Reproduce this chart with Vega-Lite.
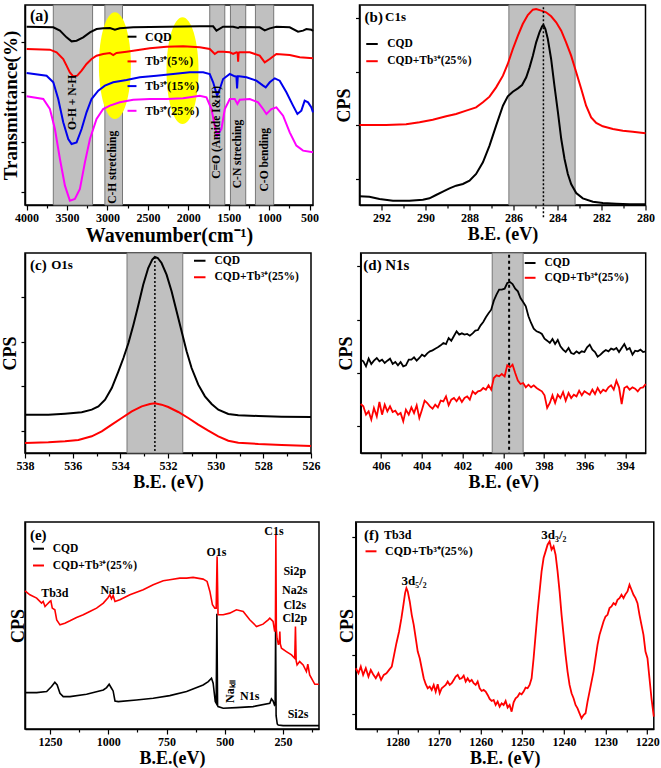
{
"$schema":"https://vega.github.io/schema/vega-lite/v6.json",
"background":"white",
"padding":{"left":0,"top":3,"right":0,"bottom":0},
"spacing":5,
"resolve":{"scale":{"color":"independent"},"legend":{"color":"independent"}},
"config":{
 "view":{"stroke":"black","strokeWidth":1.5},
 "axis":{"grid":false,"domainColor":"black","domainWidth":1.5,"tickColor":"black","tickWidth":1.2,"labelFont":"Liberation Serif","labelFontWeight":"bold","labelFontSize":12,"labelColor":"black","titleFont":"Liberation Serif","titleFontWeight":"bold","titleFontSize":18,"titleColor":"black","labelFlush":false,"labelOverlap":false,"labelPadding":2,"titlePadding":2},
 "legend":{"labelFont":"Liberation Serif","labelFontWeight":"bold","labelColor":"black","padding":0,"symbolStrokeWidth":2},
 "text":{"font":"Liberation Serif","fontWeight":"bold","color":"black"},
 "title":{"font":"Liberation Serif"}
},
"datasets":{
 "a_band":[{"x":3670,"x2":3184},{"x":3032,"x2":2814},{"x":1735,"x2":1549},{"x":1479,"x2":1290},{"x":1170,"x2":944}],
 "a_ell":[{"x":2908,"y":418},{"x":2072,"y":403}],
 "a_text":[{"t":"O-H + N-H","x":3432,"y":308},{"t":"C-H stretching","x":2929,"y":113},{"t":"C=O (Amide I&II)","x":1644,"y":218},{"t":"C-N streching","x":1380,"y":153},{"t":"C-O bending","x":1055,"y":136}],
 "a_line":[
  {"s":"CQD","x":4000,"y":535},{"s":"CQD","x":3670,"y":533},{"s":"CQD","x":3588,"y":523},{"s":"CQD","x":3506,"y":503},{"s":"CQD","x":3444,"y":491},{"s":"CQD","x":3382,"y":493},{"s":"CQD","x":3300,"y":503},{"s":"CQD","x":3217,"y":518},{"s":"CQD","x":3135,"y":528},{"s":"CQD","x":3053,"y":530},{"s":"CQD","x":2970,"y":531},{"s":"CQD","x":2908,"y":526},{"s":"CQD","x":2847,"y":530},{"s":"CQD","x":2682,"y":533},{"s":"CQD","x":2270,"y":535},{"s":"CQD","x":1858,"y":536},{"s":"CQD","x":1693,"y":536},{"s":"CQD","x":1652,"y":523},{"s":"CQD","x":1570,"y":535},{"s":"CQD","x":1446,"y":535},{"s":"CQD","x":1384,"y":531},{"s":"CQD","x":1364,"y":534},{"s":"CQD","x":1117,"y":533},{"s":"CQD","x":1055,"y":524},{"s":"CQD","x":993,"y":530},{"s":"CQD","x":911,"y":535},{"s":"CQD","x":746,"y":533},{"s":"CQD","x":643,"y":520},{"s":"CQD","x":581,"y":523},{"s":"CQD","x":540,"y":528},{"s":"CQD","x":478,"y":526},{"s":"CQD","x":458,"y":522},
  {"s":"Tb³⁺(5%)","x":4000,"y":468},{"s":"Tb³⁺(5%)","x":3712,"y":466},{"s":"Tb³⁺(5%)","x":3629,"y":458},{"s":"Tb³⁺(5%)","x":3547,"y":438},{"s":"Tb³⁺(5%)","x":3506,"y":418},{"s":"Tb³⁺(5%)","x":3465,"y":398},{"s":"Tb³⁺(5%)","x":3423,"y":386},{"s":"Tb³⁺(5%)","x":3374,"y":388},{"s":"Tb³⁺(5%)","x":3320,"y":403},{"s":"Tb³⁺(5%)","x":3259,"y":423},{"s":"Tb³⁺(5%)","x":3197,"y":438},{"s":"Tb³⁺(5%)","x":3135,"y":448},{"s":"Tb³⁺(5%)","x":3053,"y":453},{"s":"Tb³⁺(5%)","x":2970,"y":456},{"s":"Tb³⁺(5%)","x":2929,"y":450},{"s":"Tb³⁺(5%)","x":2888,"y":456},{"s":"Tb³⁺(5%)","x":2764,"y":460},{"s":"Tb³⁺(5%)","x":2682,"y":463},{"s":"Tb³⁺(5%)","x":2476,"y":470},{"s":"Tb³⁺(5%)","x":2270,"y":475},{"s":"Tb³⁺(5%)","x":2064,"y":476},{"s":"Tb³⁺(5%)","x":1858,"y":473},{"s":"Tb³⁺(5%)","x":1735,"y":468},{"s":"Tb³⁺(5%)","x":1673,"y":453},{"s":"Tb³⁺(5%)","x":1632,"y":460},{"s":"Tb³⁺(5%)","x":1570,"y":460},{"s":"Tb³⁺(5%)","x":1487,"y":458},{"s":"Tb³⁺(5%)","x":1446,"y":453},{"s":"Tb³⁺(5%)","x":1405,"y":458},{"s":"Tb³⁺(5%)","x":1390,"y":457},{"s":"Tb³⁺(5%)","x":1384,"y":430},{"s":"Tb³⁺(5%)","x":1378,"y":457},{"s":"Tb³⁺(5%)","x":1364,"y":458},{"s":"Tb³⁺(5%)","x":1240,"y":458},{"s":"Tb³⁺(5%)","x":1117,"y":448},{"s":"Tb³⁺(5%)","x":1055,"y":428},{"s":"Tb³⁺(5%)","x":993,"y":438},{"s":"Tb³⁺(5%)","x":911,"y":453},{"s":"Tb³⁺(5%)","x":746,"y":450},{"s":"Tb³⁺(5%)","x":622,"y":443},{"s":"Tb³⁺(5%)","x":458,"y":440},
  {"s":"Tb³⁺(15%)","x":4000,"y":396},{"s":"Tb³⁺(15%)","x":3753,"y":388},{"s":"Tb³⁺(15%)","x":3670,"y":368},{"s":"Tb³⁺(15%)","x":3609,"y":318},{"s":"Tb³⁺(15%)","x":3547,"y":248},{"s":"Tb³⁺(15%)","x":3485,"y":198},{"s":"Tb³⁺(15%)","x":3444,"y":183},{"s":"Tb³⁺(15%)","x":3382,"y":188},{"s":"Tb³⁺(15%)","x":3320,"y":228},{"s":"Tb³⁺(15%)","x":3259,"y":278},{"s":"Tb³⁺(15%)","x":3197,"y":318},{"s":"Tb³⁺(15%)","x":3114,"y":343},{"s":"Tb³⁺(15%)","x":3032,"y":358},{"s":"Tb³⁺(15%)","x":2929,"y":368},{"s":"Tb³⁺(15%)","x":2764,"y":375},{"s":"Tb³⁺(15%)","x":2600,"y":383},{"s":"Tb³⁺(15%)","x":2394,"y":388},{"s":"Tb³⁺(15%)","x":2188,"y":393},{"s":"Tb³⁺(15%)","x":1982,"y":398},{"s":"Tb³⁺(15%)","x":1817,"y":398},{"s":"Tb³⁺(15%)","x":1735,"y":393},{"s":"Tb³⁺(15%)","x":1693,"y":368},{"s":"Tb³⁺(15%)","x":1644,"y":328},{"s":"Tb³⁺(15%)","x":1611,"y":348},{"s":"Tb³⁺(15%)","x":1570,"y":378},{"s":"Tb³⁺(15%)","x":1487,"y":393},{"s":"Tb³⁺(15%)","x":1426,"y":386},{"s":"Tb³⁺(15%)","x":1405,"y":385},{"s":"Tb³⁺(15%)","x":1397,"y":350},{"s":"Tb³⁺(15%)","x":1388,"y":386},{"s":"Tb³⁺(15%)","x":1372,"y":386},{"s":"Tb³⁺(15%)","x":1281,"y":383},{"s":"Tb³⁺(15%)","x":1158,"y":373},{"s":"Tb³⁺(15%)","x":1075,"y":358},{"s":"Tb³⁺(15%)","x":1043,"y":353},{"s":"Tb³⁺(15%)","x":993,"y":368},{"s":"Tb³⁺(15%)","x":931,"y":380},{"s":"Tb³⁺(15%)","x":870,"y":373},{"s":"Tb³⁺(15%)","x":787,"y":338},{"s":"Tb³⁺(15%)","x":705,"y":298},{"s":"Tb³⁺(15%)","x":651,"y":273},{"s":"Tb³⁺(15%)","x":602,"y":283},{"s":"Tb³⁺(15%)","x":561,"y":313},{"s":"Tb³⁺(15%)","x":519,"y":308},{"s":"Tb³⁺(15%)","x":478,"y":293},{"s":"Tb³⁺(15%)","x":458,"y":278},
  {"s":"Tb³⁺(25%)","x":4000,"y":326},{"s":"Tb³⁺(25%)","x":3794,"y":318},{"s":"Tb³⁺(25%)","x":3712,"y":288},{"s":"Tb³⁺(25%)","x":3650,"y":228},{"s":"Tb³⁺(25%)","x":3588,"y":138},{"s":"Tb³⁺(25%)","x":3526,"y":58},{"s":"Tb³⁺(25%)","x":3465,"y":13},{"s":"Tb³⁺(25%)","x":3403,"y":18},{"s":"Tb³⁺(25%)","x":3341,"y":48},{"s":"Tb³⁺(25%)","x":3279,"y":128},{"s":"Tb³⁺(25%)","x":3217,"y":198},{"s":"Tb³⁺(25%)","x":3135,"y":258},{"s":"Tb³⁺(25%)","x":3053,"y":288},{"s":"Tb³⁺(25%)","x":2970,"y":298},{"s":"Tb³⁺(25%)","x":2847,"y":308},{"s":"Tb³⁺(25%)","x":2682,"y":316},{"s":"Tb³⁺(25%)","x":2476,"y":318},{"s":"Tb³⁺(25%)","x":2270,"y":318},{"s":"Tb³⁺(25%)","x":2064,"y":320},{"s":"Tb³⁺(25%)","x":1858,"y":328},{"s":"Tb³⁺(25%)","x":1776,"y":323},{"s":"Tb³⁺(25%)","x":1714,"y":288},{"s":"Tb³⁺(25%)","x":1673,"y":238},{"s":"Tb³⁺(25%)","x":1644,"y":208},{"s":"Tb³⁺(25%)","x":1590,"y":228},{"s":"Tb³⁺(25%)","x":1549,"y":288},{"s":"Tb³⁺(25%)","x":1487,"y":318},{"s":"Tb³⁺(25%)","x":1426,"y":318},{"s":"Tb³⁺(25%)","x":1393,"y":303},{"s":"Tb³⁺(25%)","x":1364,"y":316},{"s":"Tb³⁺(25%)","x":1240,"y":318},{"s":"Tb³⁺(25%)","x":1137,"y":308},{"s":"Tb³⁺(25%)","x":1075,"y":288},{"s":"Tb³⁺(25%)","x":1034,"y":273},{"s":"Tb³⁺(25%)","x":973,"y":288},{"s":"Tb³⁺(25%)","x":911,"y":293},{"s":"Tb³⁺(25%)","x":828,"y":268},{"s":"Tb³⁺(25%)","x":746,"y":218},{"s":"Tb³⁺(25%)","x":664,"y":178},{"s":"Tb³⁺(25%)","x":581,"y":163},{"s":"Tb³⁺(25%)","x":458,"y":158}
 ],
 "b_band":[{"x":286.21,"x2":283.2}],
 "b_line":[
  {"s":"CQD","x":293.0,"y":26},{"s":"CQD","x":292.55,"y":25},{"s":"CQD","x":292.09,"y":18},{"s":"CQD","x":291.48,"y":13},{"s":"CQD","x":290.73,"y":13},{"s":"CQD","x":290.12,"y":16},{"s":"CQD","x":289.82,"y":20},{"s":"CQD","x":289.52,"y":30},{"s":"CQD","x":289.21,"y":40},{"s":"CQD","x":288.91,"y":50},{"s":"CQD","x":288.61,"y":58},{"s":"CQD","x":288.3,"y":63},{"s":"CQD","x":288.0,"y":73},{"s":"CQD","x":287.7,"y":93},{"s":"CQD","x":287.39,"y":128},{"s":"CQD","x":287.09,"y":178},{"s":"CQD","x":286.79,"y":238},{"s":"CQD","x":286.48,"y":298},{"s":"CQD","x":286.26,"y":326},{"s":"CQD","x":286.03,"y":340},{"s":"CQD","x":285.8,"y":350},{"s":"CQD","x":285.61,"y":360},{"s":"CQD","x":285.42,"y":383},{"s":"CQD","x":285.27,"y":413},{"s":"CQD","x":285.12,"y":448},{"s":"CQD","x":284.97,"y":488},{"s":"CQD","x":284.82,"y":518},{"s":"CQD","x":284.7,"y":536},{"s":"CQD","x":284.64,"y":540},{"s":"CQD","x":284.55,"y":528},{"s":"CQD","x":284.44,"y":498},{"s":"CQD","x":284.29,"y":438},{"s":"CQD","x":284.14,"y":358},{"s":"CQD","x":283.98,"y":278},{"s":"CQD","x":283.83,"y":198},{"s":"CQD","x":283.68,"y":138},{"s":"CQD","x":283.53,"y":93},{"s":"CQD","x":283.38,"y":63},{"s":"CQD","x":283.15,"y":36},{"s":"CQD","x":282.85,"y":20},{"s":"CQD","x":282.39,"y":10},{"s":"CQD","x":281.94,"y":6},{"s":"CQD","x":281.33,"y":4},{"s":"CQD","x":280.73,"y":2},{"s":"CQD","x":280.0,"y":2},
  {"s":"CQD+Tb³⁺(25%)","x":293.0,"y":240},{"s":"CQD+Tb³⁺(25%)","x":292.39,"y":240},{"s":"CQD+Tb³⁺(25%)","x":291.79,"y":240},{"s":"CQD+Tb³⁺(25%)","x":290.88,"y":242},{"s":"CQD+Tb³⁺(25%)","x":290.27,"y":248},{"s":"CQD+Tb³⁺(25%)","x":289.67,"y":256},{"s":"CQD+Tb³⁺(25%)","x":289.06,"y":266},{"s":"CQD+Tb³⁺(25%)","x":288.61,"y":273},{"s":"CQD+Tb³⁺(25%)","x":288.15,"y":283},{"s":"CQD+Tb³⁺(25%)","x":287.7,"y":293},{"s":"CQD+Tb³⁺(25%)","x":287.39,"y":308},{"s":"CQD+Tb³⁺(25%)","x":287.09,"y":325},{"s":"CQD+Tb³⁺(25%)","x":286.79,"y":353},{"s":"CQD+Tb³⁺(25%)","x":286.48,"y":388},{"s":"CQD+Tb³⁺(25%)","x":286.26,"y":423},{"s":"CQD+Tb³⁺(25%)","x":286.03,"y":468},{"s":"CQD+Tb³⁺(25%)","x":285.8,"y":508},{"s":"CQD+Tb³⁺(25%)","x":285.58,"y":543},{"s":"CQD+Tb³⁺(25%)","x":285.35,"y":570},{"s":"CQD+Tb³⁺(25%)","x":285.12,"y":586},{"s":"CQD+Tb³⁺(25%)","x":284.97,"y":588},{"s":"CQD+Tb³⁺(25%)","x":284.74,"y":583},{"s":"CQD+Tb³⁺(25%)","x":284.52,"y":578},{"s":"CQD+Tb³⁺(25%)","x":284.29,"y":566},{"s":"CQD+Tb³⁺(25%)","x":284.06,"y":548},{"s":"CQD+Tb³⁺(25%)","x":283.83,"y":523},{"s":"CQD+Tb³⁺(25%)","x":283.61,"y":488},{"s":"CQD+Tb³⁺(25%)","x":283.38,"y":448},{"s":"CQD+Tb³⁺(25%)","x":283.15,"y":398},{"s":"CQD+Tb³⁺(25%)","x":282.92,"y":348},{"s":"CQD+Tb³⁺(25%)","x":282.7,"y":298},{"s":"CQD+Tb³⁺(25%)","x":282.47,"y":263},{"s":"CQD+Tb³⁺(25%)","x":282.24,"y":246},{"s":"CQD+Tb³⁺(25%)","x":281.94,"y":236},{"s":"CQD+Tb³⁺(25%)","x":281.48,"y":228},{"s":"CQD+Tb³⁺(25%)","x":281.03,"y":223},{"s":"CQD+Tb³⁺(25%)","x":280.58,"y":220},{"s":"CQD+Tb³⁺(25%)","x":280.0,"y":215}
 ],
 "c_band":[{"x":533.72,"x2":531.38}],
 "c_line":[
  {"s":"CQD","x":538,"y":115},{"s":"CQD","x":537.02,"y":115},{"s":"CQD","x":536.32,"y":118},{"s":"CQD","x":535.62,"y":122},{"s":"CQD","x":535.2,"y":130},{"s":"CQD","x":534.92,"y":140},{"s":"CQD","x":534.64,"y":160},{"s":"CQD","x":534.36,"y":195},{"s":"CQD","x":534.08,"y":245},{"s":"CQD","x":533.87,"y":285},{"s":"CQD","x":533.66,"y":330},{"s":"CQD","x":533.45,"y":385},{"s":"CQD","x":533.24,"y":445},{"s":"CQD","x":533.04,"y":505},{"s":"CQD","x":532.83,"y":555},{"s":"CQD","x":532.66,"y":580},{"s":"CQD","x":532.55,"y":588},{"s":"CQD","x":532.43,"y":585},{"s":"CQD","x":532.27,"y":570},{"s":"CQD","x":532.06,"y":535},{"s":"CQD","x":531.85,"y":485},{"s":"CQD","x":531.64,"y":425},{"s":"CQD","x":531.43,"y":365},{"s":"CQD","x":531.22,"y":305},{"s":"CQD","x":531.01,"y":255},{"s":"CQD","x":530.73,"y":205},{"s":"CQD","x":530.45,"y":170},{"s":"CQD","x":530.17,"y":147},{"s":"CQD","x":529.89,"y":130},{"s":"CQD","x":529.47,"y":117},{"s":"CQD","x":529.05,"y":113},{"s":"CQD","x":528.21,"y":111},{"s":"CQD","x":527.23,"y":109},{"s":"CQD","x":526,"y":108},
  {"s":"CQD+Tb³⁺(25%)","x":538,"y":30},{"s":"CQD+Tb³⁺(25%)","x":537.02,"y":32},{"s":"CQD+Tb³⁺(25%)","x":536.32,"y":35},{"s":"CQD+Tb³⁺(25%)","x":535.76,"y":39},{"s":"CQD+Tb³⁺(25%)","x":535.2,"y":50},{"s":"CQD+Tb³⁺(25%)","x":534.78,"y":65},{"s":"CQD+Tb³⁺(25%)","x":534.36,"y":85},{"s":"CQD+Tb³⁺(25%)","x":533.94,"y":105},{"s":"CQD+Tb³⁺(25%)","x":533.52,"y":125},{"s":"CQD+Tb³⁺(25%)","x":533.1,"y":140},{"s":"CQD+Tb³⁺(25%)","x":532.76,"y":147},{"s":"CQD+Tb³⁺(25%)","x":532.55,"y":149},{"s":"CQD+Tb³⁺(25%)","x":532.27,"y":145},{"s":"CQD+Tb³⁺(25%)","x":531.99,"y":138},{"s":"CQD+Tb³⁺(25%)","x":531.57,"y":123},{"s":"CQD+Tb³⁺(25%)","x":531.15,"y":105},{"s":"CQD+Tb³⁺(25%)","x":530.73,"y":85},{"s":"CQD+Tb³⁺(25%)","x":530.31,"y":67},{"s":"CQD+Tb³⁺(25%)","x":529.89,"y":50},{"s":"CQD+Tb³⁺(25%)","x":529.47,"y":37},{"s":"CQD+Tb³⁺(25%)","x":529.05,"y":31},{"s":"CQD+Tb³⁺(25%)","x":528.21,"y":27},{"s":"CQD+Tb³⁺(25%)","x":527.23,"y":24},{"s":"CQD+Tb³⁺(25%)","x":526,"y":21}
 ],
 "d_band":[{"x":400.54,"x2":399.02}],
 "d_line":[
  {"x":407.00,"a":280,"b":147},{"x":406.87,"a":275,"b":140},{"x":406.74,"a":260,"b":115},{"x":406.61,"a":283,"b":125},{"x":406.48,"a":267,"b":100},{"x":406.35,"a":277,"b":135},{"x":406.21,"a":285,"b":110},{"x":406.08,"a":275,"b":153},{"x":405.95,"a":280,"b":115},{"x":405.82,"a":270,"b":145},
  {"x":405.69,"a":277,"b":125},{"x":405.56,"a":283,"b":140},{"x":405.43,"a":267,"b":123},{"x":405.30,"a":273,"b":127},{"x":405.17,"a":263,"b":115},{"x":405.04,"a":273,"b":120},{"x":404.91,"a":260,"b":95},{"x":404.78,"a":263,"b":130},{"x":404.64,"a":280,"b":115},{"x":404.51,"a":280,"b":137},
  {"x":404.38,"a":287,"b":120},{"x":404.25,"a":277,"b":143},{"x":404.12,"a":285,"b":105},{"x":403.99,"a":295,"b":130},{"x":403.86,"a":290,"b":157},{"x":403.73,"a":299,"b":150},{"x":403.60,"a":305,"b":140},{"x":403.47,"a":308,"b":133},{"x":403.34,"a":313,"b":145},{"x":403.21,"a":317,"b":137},
  {"x":403.07,"a":323,"b":157},{"x":402.94,"a":330,"b":155},{"x":402.81,"a":327,"b":170},{"x":402.68,"a":345,"b":143},{"x":402.55,"a":337,"b":160},{"x":402.42,"a":351,"b":165},{"x":402.29,"a":365,"b":155},{"x":402.16,"a":355,"b":167},{"x":402.03,"a":359,"b":153},{"x":401.90,"a":355,"b":165},
  {"x":401.77,"a":357,"b":170},{"x":401.64,"a":352,"b":160},{"x":401.50,"a":359,"b":185},{"x":401.37,"a":367,"b":177},{"x":401.24,"a":369,"b":185},{"x":401.11,"a":383,"b":187},{"x":400.98,"a":393,"b":195},{"x":400.85,"a":407,"b":190},{"x":400.72,"a":419,"b":203},{"x":400.59,"a":430,"b":190},
  {"x":400.46,"a":457,"b":225},{"x":400.33,"a":475,"b":233},{"x":400.20,"a":490,"b":230},{"x":400.07,"a":490,"b":237},{"x":399.93,"a":493,"b":230},{"x":399.80,"a":510,"b":263},{"x":399.67,"a":513,"b":257},{"x":399.54,"a":507,"b":265},{"x":399.41,"a":493,"b":240},{"x":399.28,"a":485,"b":217},
  {"x":399.15,"a":465,"b":207},{"x":399.02,"a":453,"b":210},{"x":398.89,"a":440,"b":197},{"x":398.76,"a":410,"b":205},{"x":398.63,"a":390,"b":197},{"x":398.50,"a":373,"b":203},{"x":398.36,"a":365,"b":195},{"x":398.23,"a":362,"b":190},{"x":398.10,"a":357,"b":185},{"x":397.97,"a":343,"b":173},
  {"x":397.84,"a":337,"b":135},{"x":397.71,"a":330,"b":150},{"x":397.58,"a":342,"b":173},{"x":397.45,"a":327,"b":150},{"x":397.32,"a":339,"b":175},{"x":397.19,"a":320,"b":165},{"x":397.06,"a":310,"b":183},{"x":396.93,"a":303,"b":157},{"x":396.79,"a":315,"b":180},{"x":396.66,"a":300,"b":165},
  {"x":396.53,"a":297,"b":175},{"x":396.40,"a":305,"b":170},{"x":396.27,"a":299,"b":187},{"x":396.14,"a":305,"b":173},{"x":396.01,"a":303,"b":185},{"x":395.88,"a":317,"b":180},{"x":395.75,"a":325,"b":175},{"x":395.62,"a":310,"b":190},{"x":395.49,"a":303,"b":177},{"x":395.36,"a":289,"b":195},
  {"x":395.22,"a":295,"b":180},{"x":395.09,"a":303,"b":190},{"x":394.96,"a":309,"b":185},{"x":394.83,"a":305,"b":197},{"x":394.70,"a":313,"b":203},{"x":394.57,"a":310,"b":190},{"x":394.44,"a":315,"b":217},{"x":394.31,"a":303,"b":197},{"x":394.18,"a":315,"b":147},{"x":394.05,"a":327,"b":195},
  {"x":393.92,"a":310,"b":200},{"x":393.79,"a":315,"b":190},{"x":393.65,"a":295,"b":197},{"x":393.52,"a":307,"b":193},{"x":393.39,"a":305,"b":185},{"x":393.26,"a":310,"b":195},{"x":393.13,"a":303,"b":197},{"x":393.00,"a":305,"b":207}
 ],
 "e_line":[
  {"s":"CQD","x":1357,"y":109},{"s":"CQD","x":1307,"y":109},{"s":"CQD","x":1264,"y":112},{"s":"CQD","x":1243,"y":127},{"s":"CQD","x":1229,"y":140},{"s":"CQD","x":1219,"y":132},{"s":"CQD","x":1207,"y":107},{"s":"CQD","x":1193,"y":97},{"s":"CQD","x":1164,"y":97},{"s":"CQD","x":1093,"y":104},{"s":"CQD","x":1021,"y":117},{"s":"CQD","x":1007,"y":124},{"s":"CQD","x":996,"y":134},{"s":"CQD","x":986,"y":122},{"s":"CQD","x":979,"y":114},{"s":"CQD","x":971,"y":84},{"s":"CQD","x":957,"y":82},{"s":"CQD","x":879,"y":87},{"s":"CQD","x":807,"y":92},{"s":"CQD","x":736,"y":100},{"s":"CQD","x":664,"y":112},{"s":"CQD","x":593,"y":132},{"s":"CQD","x":571,"y":142},{"s":"CQD","x":557,"y":152},{"s":"CQD","x":550,"y":137},{"s":"CQD","x":541,"y":82},{"s":"CQD","x":537,"y":77},{"s":"CQD","x":534,"y":345},{"s":"CQD","x":531,"y":70},{"s":"CQD","x":529,"y":67},{"s":"CQD","x":507,"y":62},{"s":"CQD","x":450,"y":64},{"s":"CQD","x":379,"y":67},{"s":"CQD","x":307,"y":77},{"s":"CQD","x":300,"y":90},{"s":"CQD","x":293,"y":84},{"s":"CQD","x":287,"y":72},{"s":"CQD","x":284,"y":75},{"s":"CQD","x":282,"y":310},{"s":"CQD","x":280,"y":40},{"s":"CQD","x":275,"y":15},{"s":"CQD","x":271,"y":12},{"s":"CQD","x":250,"y":10},{"s":"CQD","x":164,"y":10},{"s":"CQD","x":96,"y":10},
  {"s":"CQD+Tb³⁺(25%)","x":1357,"y":414},{"s":"CQD+Tb³⁺(25%)","x":1336,"y":402},{"s":"CQD+Tb³⁺(25%)","x":1307,"y":392},{"s":"CQD+Tb³⁺(25%)","x":1286,"y":377},{"s":"CQD+Tb³⁺(25%)","x":1279,"y":382},{"s":"CQD+Tb³⁺(25%)","x":1271,"y":367},{"s":"CQD+Tb³⁺(25%)","x":1264,"y":372},{"s":"CQD+Tb³⁺(25%)","x":1250,"y":382},{"s":"CQD+Tb³⁺(25%)","x":1246,"y":384},{"s":"CQD+Tb³⁺(25%)","x":1240,"y":362},{"s":"CQD+Tb³⁺(25%)","x":1229,"y":357},{"s":"CQD+Tb³⁺(25%)","x":1221,"y":327},{"s":"CQD+Tb³⁺(25%)","x":1207,"y":312},{"s":"CQD+Tb³⁺(25%)","x":1186,"y":317},{"s":"CQD+Tb³⁺(25%)","x":1164,"y":324},{"s":"CQD+Tb³⁺(25%)","x":1136,"y":334},{"s":"CQD+Tb³⁺(25%)","x":1107,"y":342},{"s":"CQD+Tb³⁺(25%)","x":1079,"y":352},{"s":"CQD+Tb³⁺(25%)","x":1050,"y":362},{"s":"CQD+Tb³⁺(25%)","x":1021,"y":377},{"s":"CQD+Tb³⁺(25%)","x":1000,"y":394},{"s":"CQD+Tb³⁺(25%)","x":993,"y":402},{"s":"CQD+Tb³⁺(25%)","x":986,"y":390},{"s":"CQD+Tb³⁺(25%)","x":979,"y":400},{"s":"CQD+Tb³⁺(25%)","x":971,"y":382},{"s":"CQD+Tb³⁺(25%)","x":950,"y":387},{"s":"CQD+Tb³⁺(25%)","x":907,"y":402},{"s":"CQD+Tb³⁺(25%)","x":850,"y":417},{"s":"CQD+Tb³⁺(25%)","x":807,"y":432},{"s":"CQD+Tb³⁺(25%)","x":764,"y":444},{"s":"CQD+Tb³⁺(25%)","x":736,"y":447},{"s":"CQD+Tb³⁺(25%)","x":693,"y":452},{"s":"CQD+Tb³⁺(25%)","x":664,"y":452},{"s":"CQD+Tb³⁺(25%)","x":636,"y":454},{"s":"CQD+Tb³⁺(25%)","x":593,"y":449},{"s":"CQD+Tb³⁺(25%)","x":576,"y":442},{"s":"CQD+Tb³⁺(25%)","x":564,"y":412},{"s":"CQD+Tb³⁺(25%)","x":553,"y":372},{"s":"CQD+Tb³⁺(25%)","x":543,"y":362},{"s":"CQD+Tb³⁺(25%)","x":537,"y":362},{"s":"CQD+Tb³⁺(25%)","x":533,"y":517},{"s":"CQD+Tb³⁺(25%)","x":529,"y":342},{"s":"CQD+Tb³⁺(25%)","x":507,"y":342},{"s":"CQD+Tb³⁺(25%)","x":479,"y":347},{"s":"CQD+Tb³⁺(25%)","x":450,"y":357},{"s":"CQD+Tb³⁺(25%)","x":421,"y":352},{"s":"CQD+Tb³⁺(25%)","x":393,"y":327},{"s":"CQD+Tb³⁺(25%)","x":364,"y":307},{"s":"CQD+Tb³⁺(25%)","x":336,"y":314},{"s":"CQD+Tb³⁺(25%)","x":314,"y":327},{"s":"CQD+Tb³⁺(25%)","x":307,"y":332},{"s":"CQD+Tb³⁺(25%)","x":293,"y":322},{"s":"CQD+Tb³⁺(25%)","x":286,"y":292},{"s":"CQD+Tb³⁺(25%)","x":283,"y":300},{"s":"CQD+Tb³⁺(25%)","x":281,"y":582},{"s":"CQD+Tb³⁺(25%)","x":279,"y":300},{"s":"CQD+Tb³⁺(25%)","x":276,"y":272},{"s":"CQD+Tb³⁺(25%)","x":270,"y":252},{"s":"CQD+Tb³⁺(25%)","x":266,"y":265},{"s":"CQD+Tb³⁺(25%)","x":264,"y":292},{"s":"CQD+Tb³⁺(25%)","x":262,"y":255},{"s":"CQD+Tb³⁺(25%)","x":257,"y":242},{"s":"CQD+Tb³⁺(25%)","x":236,"y":232},{"s":"CQD+Tb³⁺(25%)","x":214,"y":222},{"s":"CQD+Tb³⁺(25%)","x":200,"y":212},{"s":"CQD+Tb³⁺(25%)","x":197,"y":307},{"s":"CQD+Tb³⁺(25%)","x":194,"y":205},{"s":"CQD+Tb³⁺(25%)","x":190,"y":192},{"s":"CQD+Tb³⁺(25%)","x":179,"y":202},{"s":"CQD+Tb³⁺(25%)","x":164,"y":192},{"s":"CQD+Tb³⁺(25%)","x":150,"y":172},{"s":"CQD+Tb³⁺(25%)","x":144,"y":194},{"s":"CQD+Tb³⁺(25%)","x":136,"y":162},{"s":"CQD+Tb³⁺(25%)","x":114,"y":134},{"s":"CQD+Tb³⁺(25%)","x":96,"y":134}
 ],
 "e_text":[{"t":"Tb3d","x":1229,"y":407},{"t":"Na1s","x":979,"y":417},{"t":"O1s","x":536,"y":529},{"t":"C1s","x":289,"y":594},{"t":"Si2p","x":200,"y":472},{"t":"Na2s","x":200,"y":417},{"t":"Cl2s","x":200,"y":370},{"t":"Cl2p","x":200,"y":332},{"t":"N1s","x":393,"y":100},{"t":"Si2s","x":186,"y":44}],
 "e_rot":[{"t":"Naₖₗₗ","x":479,"y":112}],
 "f_line":[
  {"x":1290.0,"y":182},{"x":1289.36,"y":167},{"x":1288.8,"y":187},{"x":1288.24,"y":162},{"x":1287.6,"y":182},{"x":1286.96,"y":157},{"x":1286.4,"y":177},{"x":1285.84,"y":164},{"x":1285.2,"y":152},{"x":1284.56,"y":167},{"x":1283.92,"y":147},{"x":1283.28,"y":162},{"x":1282.64,"y":167},{"x":1282.0,"y":177},{"x":1281.36,"y":187},{"x":1280.8,"y":222},{"x":1280.24,"y":257},{"x":1279.6,"y":292},{"x":1279.04,"y":332},{"x":1278.56,"y":372},{"x":1278.16,"y":407},{"x":1277.84,"y":422},{"x":1277.52,"y":412},{"x":1277.04,"y":382},{"x":1276.56,"y":342},{"x":1276.08,"y":312},{"x":1275.6,"y":272},{"x":1275.12,"y":232},{"x":1274.64,"y":212},{"x":1274.16,"y":182},{"x":1273.68,"y":152},{"x":1273.2,"y":134},{"x":1272.72,"y":122},{"x":1272.24,"y":127},{"x":1271.76,"y":117},{"x":1271.28,"y":132},{"x":1270.8,"y":112},{"x":1270.32,"y":134},{"x":1269.84,"y":107},{"x":1269.36,"y":122},{"x":1268.88,"y":127},{"x":1268.4,"y":132},{"x":1267.92,"y":142},{"x":1267.44,"y":132},{"x":1266.96,"y":137},{"x":1266.48,"y":147},{"x":1266.0,"y":157},{"x":1265.52,"y":162},{"x":1265.04,"y":150},{"x":1264.56,"y":152},{"x":1264.08,"y":160},{"x":1263.6,"y":142},{"x":1263.12,"y":152},{"x":1262.64,"y":142},{"x":1262.16,"y":147},{"x":1261.68,"y":137},{"x":1261.2,"y":132},{"x":1260.72,"y":142},{"x":1260.24,"y":122},{"x":1259.76,"y":114},{"x":1259.28,"y":117},{"x":1258.8,"y":112},{"x":1258.32,"y":102},{"x":1257.84,"y":90},{"x":1257.36,"y":84},{"x":1256.88,"y":87},{"x":1256.4,"y":72},{"x":1255.92,"y":82},{"x":1255.44,"y":67},{"x":1254.96,"y":77},{"x":1254.48,"y":72},{"x":1254.0,"y":84},{"x":1253.52,"y":64},{"x":1253.04,"y":72},{"x":1252.56,"y":52},{"x":1252.08,"y":80},{"x":1251.6,"y":92},{"x":1251.12,"y":97},{"x":1250.64,"y":107},{"x":1250.16,"y":104},{"x":1249.68,"y":112},{"x":1249.2,"y":124},{"x":1248.72,"y":122},{"x":1248.24,"y":132},{"x":1247.76,"y":152},{"x":1247.28,"y":212},{"x":1246.8,"y":282},{"x":1246.32,"y":352},{"x":1245.84,"y":412},{"x":1245.36,"y":472},{"x":1244.88,"y":512},{"x":1244.4,"y":532},{"x":1243.92,"y":552},{"x":1243.44,"y":562},{"x":1242.96,"y":537},{"x":1242.48,"y":547},{"x":1242.0,"y":522},{"x":1241.52,"y":472},{"x":1241.04,"y":412},{"x":1240.56,"y":342},{"x":1240.08,"y":282},{"x":1239.6,"y":222},{"x":1239.12,"y":172},{"x":1238.64,"y":132},{"x":1238.16,"y":107},{"x":1237.68,"y":92},{"x":1237.2,"y":72},{"x":1236.72,"y":62},{"x":1236.24,"y":47},{"x":1235.76,"y":32},{"x":1235.28,"y":42},{"x":1234.8,"y":47},{"x":1234.32,"y":82},{"x":1233.84,"y":112},{"x":1233.36,"y":142},{"x":1232.88,"y":172},{"x":1232.4,"y":212},{"x":1231.92,"y":252},{"x":1231.44,"y":282},{"x":1230.96,"y":302},{"x":1230.48,"y":322},{"x":1230.0,"y":337},{"x":1229.52,"y":342},{"x":1229.04,"y":362},{"x":1228.56,"y":367},{"x":1228.08,"y":377},{"x":1227.6,"y":372},{"x":1227.12,"y":387},{"x":1226.64,"y":392},{"x":1226.16,"y":402},{"x":1225.68,"y":392},{"x":1225.2,"y":404},{"x":1224.72,"y":412},{"x":1224.24,"y":432},{"x":1223.76,"y":417},{"x":1223.28,"y":402},{"x":1222.8,"y":392},{"x":1222.32,"y":377},{"x":1221.84,"y":342},{"x":1221.36,"y":312},{"x":1220.88,"y":282},{"x":1220.4,"y":232},{"x":1219.92,"y":212},{"x":1219.44,"y":152},{"x":1218.96,"y":92},{"x":1218.4,"y":37}
 ],
 "f_text":[{"t":"3d₅/₂","x":1276,"y":442},{"t":"3d₃/₂","x":1242.4,"y":582}]
},
"vconcat":[
 {"hconcat":[
  {"width":288,"height":200,
   "encoding":{"x":{"field":"x","type":"quantitative","scale":{"domain":[458,4020],"reverse":true,"nice":false,"zero":false},"axis":{"title":"Wavenumber(cm⁻¹)","titleFontSize":20,"format":"d","values":[4000,3750,3500,3250,3000,2750,2500,2250,2000,1750,1500,1250,1000,750,500],"labelExpr":"datum.value % 500 === 0 ? datum.label : ''","tickSize":{"condition":{"test":"datum.value % 500 === 0","value":5},"value":3}}}},
   "layer":[
    {"data":{"name":"a_band"},"mark":{"type":"rect","fill":"#c0c0c0","stroke":"#777777","strokeWidth":1},"encoding":{"x2":{"field":"x2"}}},
    {"data":{"name":"a_ell"},"mark":{"type":"point","shape":"M0,-1A0.3,1,0,1,1,0,1A0.3,1,0,1,1,0,-1Z","filled":true,"fill":"#ffff00","opacity":1,"size":11378,"strokeWidth":0},"encoding":{"y":{"field":"y","type":"quantitative","scale":{"domain":[0,600],"nice":false,"zero":false},"axis":{"title":"Transmittance(%)","titleFontSize":19,"labels":false,"values":[38,113,188,263,338,413,488,563],"tickSize":4,"titlePadding":-0.5}}}},
    {"data":{"name":"a_line"},"mark":{"type":"line","strokeWidth":2},"encoding":{"y":{"field":"y","type":"quantitative","scale":{"domain":[0,600],"nice":false,"zero":false}},"color":{"field":"s","type":"nominal","scale":{"domain":["CQD","Tb³⁺(5%)","Tb³⁺(15%)","Tb³⁺(25%)"],"range":["#000000","#ff0000","#0000ee","#ff00ff"]},"legend":{"title":null,"orient":"none","legendX":101,"legendY":25.7,"symbolType":"M-2,0L2,0","symbolSize":20,"labelOffset":7,"rowPadding":12.7,"labelFontSize":12}}}},
    {"data":{"name":"a_text"},"mark":{"type":"text","angle":270,"fontSize":11.5},"encoding":{"y":{"field":"y","type":"quantitative","scale":{"domain":[0,600],"nice":false,"zero":false}},"text":{"field":"t"}}},
    {"data":{"values":[{"x":3958}]},"mark":{"type":"text","text":"(a)","align":"left","fontSize":16},"encoding":{"y":{"datum":566,"type":"quantitative","scale":{"domain":[0,600],"nice":false,"zero":false}}}}
   ]},
  {"width":286,"height":200,
   "encoding":{"x":{"field":"x","type":"quantitative","scale":{"domain":[280,293],"reverse":true,"nice":false,"zero":false},"axis":{"title":"B.E. (eV)","values":[292,291,290,289,288,287,286,285,284,283,282,281,280],"labelExpr":"datum.value % 2 === 0 ? datum.label : ''","tickSize":{"condition":{"test":"datum.value % 2 === 0","value":5},"value":3}}}},
   "layer":[
    {"data":{"name":"b_band"},"mark":{"type":"rect","fill":"#c0c0c0","stroke":"#777777","strokeWidth":1},"encoding":{"x2":{"field":"x2"}}},
    {"data":{"name":"b_line"},"mark":{"type":"line","strokeWidth":2},"encoding":{"y":{"field":"y","type":"quantitative","scale":{"domain":[0,600],"nice":false,"zero":false},"axis":{"title":"CPS","labels":false,"values":[78,158,240,320,400,480,560],"tickSize":4,"titlePadding":1}},"color":{"field":"s","type":"nominal","scale":{"domain":["CQD","CQD+Tb³⁺(25%)"],"range":["#000000","#ff0000"]},"legend":{"title":null,"orient":"none","legendX":6.75,"legendY":33.25,"symbolType":"M-2,0L2,0","symbolSize":33,"labelOffset":9.5,"rowPadding":4.2,"labelFontSize":11.5}}}},
    {"data":{"values":[{"x":284.64}]},"mark":{"type":"rule","strokeDash":[2,2],"strokeWidth":1.5,"color":"black"},"encoding":{"y":{"datum":593,"type":"quantitative","scale":{"domain":[0,600],"nice":false,"zero":false}},"y2":{"datum":-42}}},
    {"data":{"values":[{"x":292.77}]},"mark":{"type":"text","text":"(b)","align":"left","fontSize":15},"encoding":{"y":{"datum":563,"type":"quantitative"}}},
    {"data":{"values":[{"x":291.84}]},"mark":{"type":"text","text":"C1s","align":"left","fontSize":13},"encoding":{"y":{"datum":563,"type":"quantitative"}}}
   ]}
 ],"spacing":14.5,"resolve":{"scale":{"color":"independent"},"legend":{"color":"independent"}}},
 {"hconcat":[
  {"width":286,"height":200,
   "encoding":{"x":{"field":"x","type":"quantitative","scale":{"domain":[526,538],"reverse":true,"nice":false,"zero":false},"axis":{"title":"B.E. (eV)","values":[538,537,536,535,534,533,532,531,530,529,528,527,526],"labelExpr":"datum.value % 2 === 0 ? datum.label : ''","tickSize":{"condition":{"test":"datum.value % 2 === 0","value":5},"value":3}}}},
   "layer":[
    {"data":{"name":"c_band"},"mark":{"type":"rect","fill":"#c0c0c0","stroke":"#777777","strokeWidth":1},"encoding":{"x2":{"field":"x2"}}},
    {"data":{"values":[{"x":532.55}]},"mark":{"type":"rule","strokeDash":[2,2],"strokeWidth":1.5,"color":"black"},"encoding":{"y":{"datum":588,"type":"quantitative","scale":{"domain":[0,600],"nice":false,"zero":false}},"y2":{"datum":0}}},
    {"data":{"name":"c_line"},"mark":{"type":"line","strokeWidth":2},"encoding":{"y":{"field":"y","type":"quantitative","scale":{"domain":[0,600],"nice":false,"zero":false},"axis":{"title":"CPS","labels":false,"values":[67,133,200,267,333,400,467,533],"tickSize":4,"titlePadding":1}},"color":{"field":"s","type":"nominal","scale":{"domain":["CQD","CQD+Tb³⁺(25%)"],"range":["#000000","#ff0000"]},"legend":{"title":null,"orient":"none","legendX":169,"legendY":2,"symbolType":"M-2,0L2,0","symbolSize":33,"labelOffset":9,"rowPadding":3.5,"labelFontSize":11.5}}}},
    {"data":{"values":[{"x":537.79}]},"mark":{"type":"text","text":"(c)","align":"left","fontSize":15},"encoding":{"y":{"datum":563,"type":"quantitative"}}},
    {"data":{"values":[{"x":536.9}]},"mark":{"type":"text","text":"O1s","align":"left","fontSize":13},"encoding":{"y":{"datum":563,"type":"quantitative"}}}
   ]},
  {"width":285,"height":200,
   "encoding":{"x":{"field":"x","type":"quantitative","scale":{"domain":[393,407],"reverse":true,"nice":false,"zero":false},"axis":{"title":"B.E. (eV)","values":[406,405,404,403,402,401,400,399,398,397,396,395,394],"labelExpr":"datum.value % 2 === 0 ? datum.label : ''","tickSize":{"condition":{"test":"datum.value % 2 === 0","value":5},"value":3}}}},
   "layer":[
    {"data":{"name":"d_band"},"mark":{"type":"rect","fill":"#c0c0c0","stroke":"#777777","strokeWidth":1},"encoding":{"x2":{"field":"x2"}}},
    {"data":{"values":[{"x":399.71}]},"mark":{"type":"rule","strokeDash":[3,3],"strokeWidth":2,"color":"black"},"encoding":{"y":{"datum":595,"type":"quantitative","scale":{"domain":[0,600],"nice":false,"zero":false}},"y2":{"datum":0}}},
    {"data":{"name":"d_line"},"mark":{"type":"line","strokeWidth":1.8},"encoding":{"y":{"field":"a","type":"quantitative","scale":{"domain":[0,600],"nice":false,"zero":false},"axis":{"title":"CPS","labels":false,"values":[80,160,240,320,400,480,560],"tickSize":4,"titlePadding":1}},"color":{"datum":"CQD","scale":{"domain":["CQD","CQD+Tb³⁺(25%)"],"range":["#000000","#ff0000"]},"legend":{"title":null,"orient":"none","legendX":163.7,"legendY":4.25,"symbolType":"M-2,0L2,0","symbolSize":29,"labelOffset":8.5,"rowPadding":1.8,"labelFontSize":11.5}}}},
    {"data":{"name":"d_line"},"mark":{"type":"line","strokeWidth":1.8},"encoding":{"y":{"field":"b","type":"quantitative"},"color":{"datum":"CQD+Tb³⁺(25%)"}}},
    {"data":{"values":[{"x":406.87}]},"mark":{"type":"text","text":"(d)","align":"left","fontSize":15},"encoding":{"y":{"datum":563,"type":"quantitative"}}},
    {"data":{"values":[{"x":405.8}]},"mark":{"type":"text","text":"N1s","align":"left","fontSize":15},"encoding":{"y":{"datum":563,"type":"quantitative"}}}
   ]}
 ],"spacing":14.7,"resolve":{"scale":{"color":"independent"},"legend":{"color":"independent"}}},
 {"hconcat":[
  {"width":294,"height":207,"title":{"text":" ","fontSize":14,"offset":10},
   "encoding":{"x":{"field":"x","type":"quantitative","scale":{"domain":[96,1357],"reverse":true,"nice":false,"zero":false},"axis":{"title":"B.E.(eV)","format":"d","values":[1250,1125,1000,875,750,625,500,375,250,125],"labelExpr":"datum.value % 250 === 0 ? datum.label : ''","tickSize":{"condition":{"test":"datum.value % 250 === 0","value":5},"value":3}}}},
   "layer":[
    {"data":{"name":"e_line"},"mark":{"type":"line","strokeWidth":1.6},"encoding":{"y":{"field":"y","type":"quantitative","scale":{"domain":[0,620],"nice":false,"zero":false},"axis":{"title":"CPS","labels":false,"ticks":false,"titlePadding":-2.5}},"color":{"field":"s","type":"nominal","scale":{"domain":["CQD","CQD+Tb³⁺(25%)"],"range":["#000000","#ff0000"]},"legend":{"title":null,"orient":"none","legendX":7.75,"legendY":20.95,"symbolType":"M-2,0L2,0","symbolSize":30,"labelOffset":8.5,"rowPadding":3.8,"labelFontSize":11.5}}}},
    {"data":{"name":"e_text"},"mark":{"type":"text","fontSize":12},"encoding":{"y":{"field":"y","type":"quantitative","scale":{"domain":[0,620],"nice":false,"zero":false}},"text":{"field":"t"}}},
    {"data":{"name":"e_rot"},"mark":{"type":"text","fontSize":12,"angle":270},"encoding":{"y":{"field":"y","type":"quantitative"},"text":{"field":"t"}}},
    {"data":{"values":[{"x":1336}]},"mark":{"type":"text","text":"(e)","align":"left","fontSize":15},"encoding":{"y":{"datum":582,"type":"quantitative"}}}
   ]},
  {"width":298,"height":207,"title":{"text":" ","fontSize":14,"offset":10},
   "encoding":{"x":{"field":"x","type":"quantitative","scale":{"domain":[1218.4,1290],"reverse":true,"nice":false,"zero":false},"axis":{"title":"B.E. (eV)","format":"d","values":[1285,1280,1275,1270,1265,1260,1255,1250,1245,1240,1235,1230,1225,1220],"labelExpr":"datum.value % 10 === 0 ? datum.label : ''","tickSize":{"condition":{"test":"datum.value % 10 === 0","value":5},"value":3}}}},
   "layer":[
    {"data":{"name":"f_line"},"mark":{"type":"line","strokeWidth":1.8},"encoding":{"y":{"field":"y","type":"quantitative","scale":{"domain":[0,620],"nice":false,"zero":false},"axis":{"title":"CPS","labels":false,"values":[45,89,133,177,222,266,310,354,398,443,487,531,576],"tickSize":4,"titlePadding":-5}},"color":{"datum":"CQD+Tb³⁺(25%)","scale":{"domain":["CQD+Tb³⁺(25%)"],"range":["#ff0000"]},"legend":{"title":null,"orient":"none","legendX":9.2,"legendY":23.3,"symbolType":"M-2,0L2,0","symbolSize":30,"labelOffset":8,"labelFontSize":12}}}},
    {"data":{"name":"f_text"},"mark":{"type":"text","fontSize":13},"encoding":{"y":{"field":"y","type":"quantitative"},"text":{"field":"t"}}},
    {"data":{"values":[{"x":1288}]},"mark":{"type":"text","text":"(f)","align":"left","fontSize":15},"encoding":{"y":{"datum":582,"type":"quantitative"}}},
    {"data":{"values":[{"x":1283.2}]},"mark":{"type":"text","text":"Tb3d","align":"left","fontSize":12},"encoding":{"y":{"datum":582,"type":"quantitative"}}}
   ]}
 ],"spacing":13.8,"resolve":{"scale":{"color":"independent"},"legend":{"color":"independent"}}}
]
}
